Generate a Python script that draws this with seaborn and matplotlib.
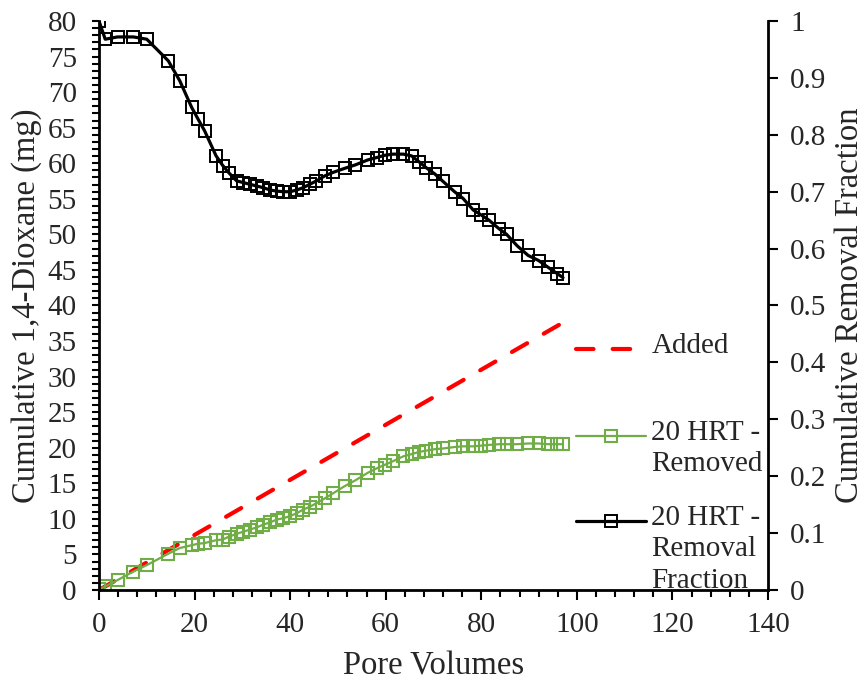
import matplotlib
matplotlib.use("Agg")
import matplotlib.pyplot as plt
from matplotlib.legend import Legend
from matplotlib.ticker import MultipleLocator, FuncFormatter
import pandas as pd
import seaborn as sns

# Sampling points (pore volumes) shared by the removed-mass and removal-fraction series
pore_volumes = [0.0, 1.3, 3.9, 7.2, 10.0, 14.5, 16.9, 19.4, 20.7, 22.1,
                24.5, 25.9, 27.2, 28.8, 30.2, 31.6, 33.0, 34.4, 35.8, 37.2,
                38.6, 40.0, 41.4, 42.7, 44.1, 45.5, 47.3, 49.0, 51.4, 53.6,
                56.3, 58.1, 59.8, 61.5, 63.7, 65.4, 66.9, 68.5, 70.3, 72.0,
                74.4, 76.2, 78.3, 80.0, 81.6, 83.7, 85.3, 87.5, 89.8, 92.0,
                94.0, 95.9, 97.1]

# Cumulative 1,4-dioxane removed (mg), 20 h HRT
removed_mg = [0.1, 0.5, 1.4, 2.6, 3.5, 5.1, 5.9, 6.3, 6.5, 6.6,
              7.0, 7.1, 7.5, 7.9, 8.2, 8.5, 8.8, 9.2, 9.5, 9.9,
              10.1, 10.4, 10.8, 11.3, 11.7, 12.2, 12.9, 13.6, 14.6, 15.4,
              16.5, 17.1, 17.6, 18.1, 18.8, 19.1, 19.4, 19.6, 19.8, 19.9,
              20.1, 20.2, 20.2, 20.3, 20.4, 20.5, 20.5, 20.5, 20.6, 20.6,
              20.5, 20.5, 20.5]

# Cumulative removal fraction, 20 h HRT
removal_fraction = [1.000, 0.968, 0.972, 0.972, 0.968, 0.930, 0.895, 0.848, 0.828, 0.807,
                    0.763, 0.746, 0.733, 0.719, 0.716, 0.713, 0.710, 0.707, 0.703, 0.701,
                    0.700, 0.700, 0.703, 0.707, 0.713, 0.719, 0.728, 0.734, 0.741, 0.747,
                    0.756, 0.760, 0.764, 0.766, 0.766, 0.763, 0.753, 0.742, 0.731, 0.718,
                    0.700, 0.688, 0.668, 0.659, 0.650, 0.635, 0.625, 0.605, 0.588, 0.579,
                    0.567, 0.556, 0.549]

# Cumulative 1,4-dioxane added (mg)
added_pv = [0.0, 97.1]
added_mg = [0.0, 37.6]

series_labels = ["Added", "20 HRT -\nRemoved", "20 HRT -\nRemoval\nFraction"]
x_label = "Pore Volumes"
y_label = "Cumulative 1,4-Dioxane (mg)"
y2_label = "Cumulative Removal Fraction"

GREEN = "#70AD47"
RED = "#FF0000"

sns.set_theme(style="ticks")
plt.rcParams["font.family"] = ["Liberation Serif", "DejaVu Serif"]

W, H = 868, 681
fig = plt.figure(figsize=(W / 100, H / 100), dpi=100)
ax = fig.add_axes([99 / W, 1 - 590 / H, (768 - 99) / W, (590 - 21) / H])
ax2 = ax.twinx()

removed_df = pd.DataFrame({"pv": pore_volumes, "mg": removed_mg})
fraction_df = pd.DataFrame({"pv": pore_volumes, "frac": removal_fraction})
added_df = pd.DataFrame({"pv": added_pv, "mg": added_mg})

sns.lineplot(data=added_df, x="pv", y="mg", ax=ax, color=RED, linewidth=3.0,
             label=series_labels[0])
added_line = ax.get_lines()[-1]
added_line.set_dashes((4.2, 4.6))
added_line.set_dash_capstyle("round")

sns.lineplot(data=removed_df, x="pv", y="mg", ax=ax, color=GREEN, linewidth=1.6,
             marker="s", markersize=9, markerfacecolor="none",
             markeredgecolor=GREEN, markeredgewidth=1.5, label=series_labels[1])

sns.lineplot(data=fraction_df, x="pv", y="frac", ax=ax2, color="black", linewidth=2.3,
             marker="s", markersize=9, markerfacecolor="none",
             markeredgecolor="black", markeredgewidth=1.4, label=series_labels[2])

# Axis limits and ticks
ax.set_xlim(0, 140)
ax.set_ylim(0, 80)
ax2.set_ylim(0, 1)
ax.xaxis.set_major_locator(MultipleLocator(20))
ax.xaxis.set_minor_locator(MultipleLocator(4))
ax.yaxis.set_major_locator(MultipleLocator(5))
ax.yaxis.set_minor_locator(MultipleLocator(1))
ax2.yaxis.set_major_locator(MultipleLocator(0.1))
ax2.yaxis.set_major_formatter(FuncFormatter(lambda v, p: f"{v:g}"))

tick_fs = 21
ax.tick_params(axis="x", which="major", direction="out", length=7, width=1.5,
               labelsize=tick_fs, pad=9, color="black")
ax.tick_params(axis="x", which="minor", direction="out", length=5, width=1.5, color="black")
ax.tick_params(axis="y", which="major", direction="out", length=5, width=1.5,
               labelsize=tick_fs, pad=11, color="black")
ax.tick_params(axis="y", which="minor", direction="out", length=5, width=1.5, color="black")
ax2.tick_params(axis="y", which="major", direction="out", length=7, width=1.5,
                labelsize=tick_fs, pad=9, color="black")

for side in ["top", "right"]:
    ax.spines[side].set_visible(False)
for side in ["top", "left", "bottom"]:
    ax2.spines[side].set_visible(False)
for sp in [ax.spines["left"], ax.spines["bottom"], ax2.spines["right"]]:
    sp.set_linewidth(2.0)
    sp.set_color("black")

label_fs = 23.5
ax.set_xlabel(x_label, fontsize=label_fs, labelpad=9)
ax.set_ylabel(y_label, fontsize=label_fs, labelpad=4)
ax2.set_ylabel(y2_label, fontsize=label_fs, labelpad=6)

# Legend entries stacked at the right-hand side of the plot area
h1, _ = ax.get_legend_handles_labels()
h2, _ = ax2.get_legend_handles_labels()
handles = h1 + h2
for a in (ax, ax2):
    if a.get_legend() is not None:
        a.get_legend().remove()

entry_tops = [333, 420, 505]
for handle, label, top in zip(handles, series_labels, entry_tops):
    lg = Legend(ax2, [handle], [label], loc="upper left",
                bbox_to_anchor=(576 / W, 1 - top / H), bbox_transform=fig.transFigure,
                frameon=False, fontsize=21, handlelength=2.4, handleheight=2.1,
                handletextpad=0.18, borderpad=0, borderaxespad=0, numpoints=1)
    for col in lg._legend_handle_box.get_children():
        for item in col.get_children():
            item.align = "top"
    for txt in lg.get_texts():
        txt.set_linespacing(1.27)
    ax2.add_artist(lg)

fig.savefig("out.png", dpi=100, facecolor="white")
